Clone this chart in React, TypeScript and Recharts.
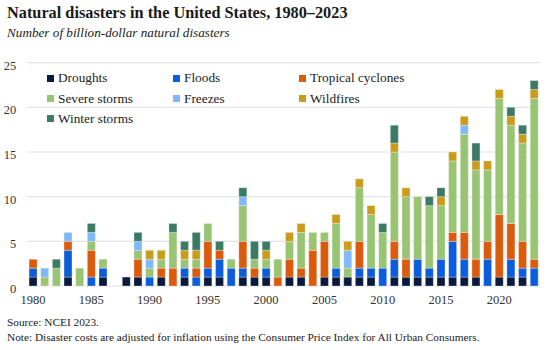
import React from 'react';
import { BarChart, Bar, XAxis, YAxis, CartesianGrid, Legend } from 'recharts';

// categories
const years = [
  '1980', '1981', '1982', '1983', '1984', '1985', '1986', '1987', '1988', '1989',
  '1990', '1991', '1992', '1993', '1994', '1995', '1996', '1997', '1998', '1999',
  '2000', '2001', '2002', '2003', '2004', '2005', '2006', '2007', '2008', '2009',
  '2010', '2011', '2012', '2013', '2014', '2015', '2016', '2017', '2018', '2019',
  '2020', '2021', '2022', '2023',
];

// counts per year, 1980 -> 2023
const droughts = [1, 0, 0, 1, 0, 0, 1, 0, 1, 1, 0, 1, 0, 1, 0, 1, 1, 0, 1, 1, 1, 0, 1, 1, 0, 1, 1, 1, 1, 1, 0, 1, 1, 1, 1, 1, 1, 1, 1, 0, 1, 1, 1, 0];
const floods = [1, 0, 0, 3, 0, 1, 1, 0, 0, 0, 1, 0, 0, 1, 1, 1, 2, 2, 1, 0, 1, 0, 0, 0, 0, 0, 1, 0, 1, 1, 2, 2, 0, 2, 1, 2, 4, 2, 0, 3, 0, 2, 1, 2];
const tropical = [1, 0, 0, 1, 0, 3, 0, 0, 0, 2, 0, 1, 2, 0, 1, 3, 1, 0, 3, 1, 0, 1, 2, 1, 4, 4, 0, 0, 3, 0, 0, 2, 2, 0, 0, 0, 1, 3, 2, 2, 7, 4, 3, 1];
const severe = [0, 1, 2, 0, 2, 1, 1, 0, 0, 1, 1, 1, 4, 1, 1, 2, 0, 1, 4, 1, 1, 2, 2, 4, 2, 1, 5, 1, 6, 6, 4, 10, 7, 7, 7, 6, 8, 11, 10, 8, 13, 11, 11, 18];
const freezes = [0, 1, 0, 1, 0, 1, 0, 0, 0, 1, 1, 0, 0, 0, 0, 0, 0, 0, 1, 0, 0, 0, 0, 0, 0, 0, 0, 2, 0, 0, 0, 0, 0, 0, 0, 0, 0, 1, 0, 0, 0, 0, 0, 0];
const wildfires = [0, 0, 0, 0, 0, 0, 0, 0, 0, 0, 1, 1, 0, 1, 1, 0, 0, 0, 0, 0, 1, 0, 1, 1, 0, 0, 1, 1, 1, 1, 0, 1, 1, 0, 0, 1, 1, 1, 1, 1, 1, 1, 1, 1];
const winter = [0, 0, 1, 0, 0, 1, 0, 0, 0, 1, 0, 0, 1, 1, 2, 0, 1, 0, 1, 2, 1, 0, 0, 0, 0, 0, 0, 0, 0, 0, 1, 2, 0, 0, 1, 1, 0, 0, 2, 0, 0, 1, 1, 1];

const yTicks = [0, 5, 10, 15, 20, 25];

const series = [
  { key: 'droughts', name: 'Droughts', color: '#0a1a3c', values: droughts },
  { key: 'floods', name: 'Floods', color: '#0c5ddc', values: floods },
  { key: 'tropical', name: 'Tropical cyclones', color: '#dc5a0c', values: tropical },
  { key: 'severe', name: 'Severe storms', color: '#98c473', values: severe },
  { key: 'freezes', name: 'Freezes', color: '#7fb9f7', values: freezes },
  { key: 'wildfires', name: 'Wildfires', color: '#c99c1c', values: wildfires },
  { key: 'winter', name: 'Winter storms', color: '#3b7a66', values: winter },
];

const data = years.map((year, i) => {
  const row: Record<string, string | number> = { year };
  series.forEach((s) => { row[s.key] = s.values[i]; });
  return row;
});

const FONT = '"Liberation Serif", "Times New Roman", serif';

function XTick({ x, y, payload }: any) {
  return (
    <text x={x} y={y + 18} textAnchor="middle" fontFamily={FONT} fontSize={12.5} fill="#333">
      {payload.value}
    </text>
  );
}

function YTick({ x, y, payload }: any) {
  return (
    <text x={x} y={y + 7} textAnchor="end" fontFamily={FONT} fontSize={12.5} fill="#333">
      {payload.value}
    </text>
  );
}

// legend sits inside the plot, 3 columns
const legendCols = [47, 173, 299];
const legendRows = [78, 98.5, 118.5];

function LegendBox() {
  return (
    <div style={{ position: 'relative', width: 554, height: 140 }}>
      {series.map((s, i) => {
        const left = legendCols[i % 3];
        const top = legendRows[Math.floor(i / 3)];
        return (
          <div key={s.key} style={{ position: 'absolute', left, top: top - 9, height: 18, display: 'flex', alignItems: 'center', whiteSpace: 'nowrap' }}>
            <span style={{ width: 7, height: 7, background: s.color, display: 'inline-block', marginRight: 4 }} />
            <span style={{ fontFamily: FONT, fontSize: 13.3, color: '#222' }}>{s.name}</span>
          </div>
        );
      })}
    </div>
  );
}

export default function App() {
  return (
    <div style={{ position: 'absolute', left: 0, top: 0, width: 554, height: 350, background: '#fff', fontFamily: FONT, color: '#1a1a1a' }}>
      <div style={{ position: 'absolute', left: 7, top: 3, fontSize: 16.3, fontWeight: 'bold', whiteSpace: 'nowrap' }}>
        Natural disasters in the United States, 1980–2023
      </div>
      <div style={{ position: 'absolute', left: 7, top: 25, fontSize: 13.2, fontStyle: 'italic', whiteSpace: 'nowrap' }}>
        Number of billion-dollar natural disasters
      </div>
      <div style={{ position: 'absolute', left: 0, top: 0 }}>
        <BarChart
          width={554}
          height={350}
          data={data}
          margin={{ top: 62.7, right: 14, bottom: 34, left: 0 }}
          barCategoryGap="16%"
        >
          <CartesianGrid vertical={false} stroke="#e2e2e2" strokeWidth={1.2} />
          <XAxis
            dataKey="year"
            height={30}
            axisLine={false}
            tickLine={false}
            tickSize={0}
            tickMargin={0}
            interval={4}
            tick={<XTick />}
          />
          <YAxis
            width={27.2}
            domain={[0, 25]}
            ticks={yTicks}
            axisLine={false}
            tickLine={false}
            tickSize={0}
            tickMargin={11}
            tick={<YTick />}
          />
          <Legend
            layout="vertical"
            align="center"
            verticalAlign="middle"
            wrapperStyle={{ left: 0, top: 0, width: 554 }}
            content={() => <LegendBox />}
          />
          {series.map((s) => (
            <Bar
              key={s.key}
              dataKey={s.key}
              name={s.name}
              stackId="a"
              fill={s.color}
              stroke="#ffffff"
              strokeWidth={0.3}
              isAnimationActive={false}
            />
          ))}
        </BarChart>
      </div>
      <div style={{ position: 'absolute', left: 7, top: 315, fontSize: 11.3, whiteSpace: 'nowrap', lineHeight: '15px' }}>
        Source: NCEI 2023.
        <br />
        Note: Disaster costs are adjusted for inflation using the Consumer Price Index for All Urban Consumers.
      </div>
    </div>
  );
}
